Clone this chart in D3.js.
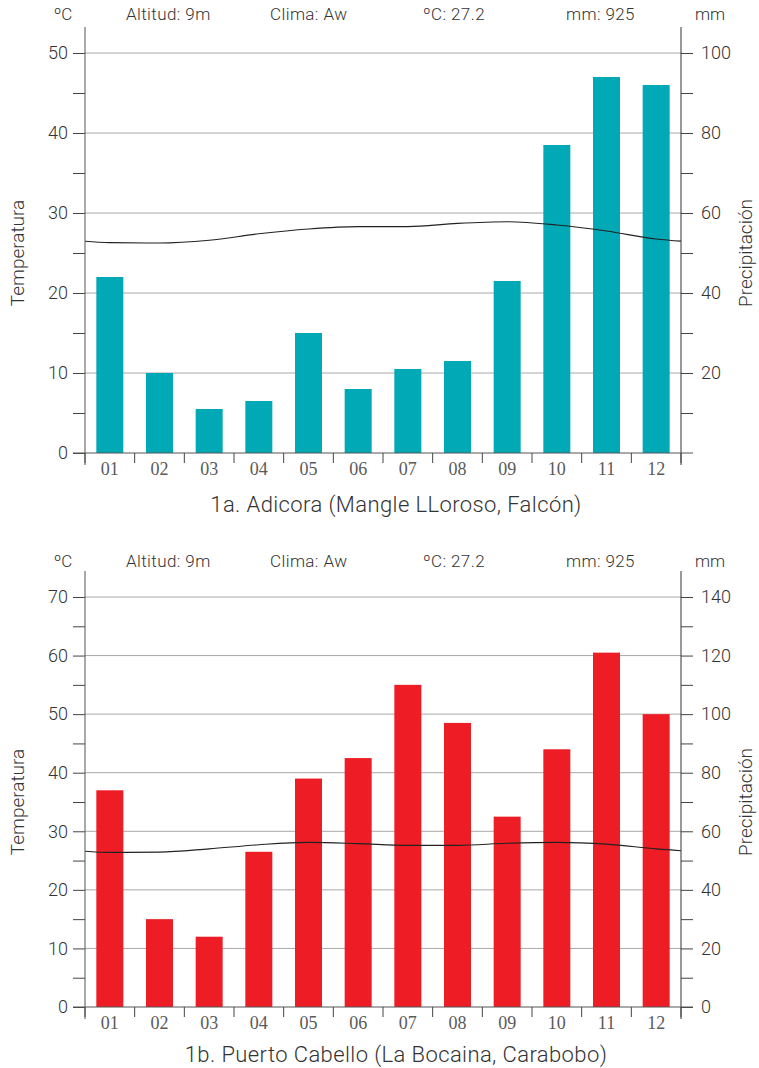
<!DOCTYPE html>
<html>
<head>
<meta charset="utf-8">
<script src="https://cdn.jsdelivr.net/npm/d3@7"></script>
<style>
  body { margin: 0; background: #fff; }
  svg { display: block; }
  text { font-family: Roboto, "Liberation Sans", Arial, sans-serif; font-weight: 300; fill: #333; }
  .xlab { font-family: "Liberation Serif", "DejaVu Serif", serif; font-weight: 400; fill: #5a5a5a; }
</style>
</head>
<body>
<div id="chart"></div>
<script>
const months = ["01", "02", "03", "04", "05", "06", "07", "08", "09", "10", "11", "12"];

// 1a. Adicora
const precipAdicora = [44, 20, 11, 13, 30, 16, 21, 23, 43, 77, 94, 92];
const tempAdicora = [26.3, 26.25, 26.6, 27.4, 28.0, 28.3, 28.3, 28.7, 28.9, 28.5, 27.75, 26.75];

// 1b. Puerto Cabello
const precipPuerto = [74, 30, 24, 53, 78, 85, 110, 97, 65, 88, 121, 100];
const tempPuerto = [26.4, 26.45, 27.0, 27.7, 28.1, 27.9, 27.6, 27.6, 27.95, 28.1, 27.8, 27.0];

const headerLabels = ["Altitud: 9m", "Clima: Aw", "ºC: 27.2", "mm: 925"];

const W = 759, H = 1068;
const svg = d3.select("#chart").append("svg").attr("width", W).attr("height", H);

function drawChart(cfg) {
    const left = 85, right = 681;
    const g = svg.append("g");

    const x = d3.scaleBand().domain(months).range([left, right]).padding(0);
    const yT = d3.scaleLinear().domain([0, cfg.tMax]).range([cfg.y0, cfg.yTop]);
    const yP = d3.scaleLinear().domain([0, cfg.tMax * 2]).range([cfg.y0, cfg.yTop]);

    // header
    g.append("text").attr("x", 63).attr("y", cfg.headY).attr("text-anchor", "middle")
        .style("font-size", "17px").text("ºC");
    g.selectAll(".head").data(headerLabels).join("text")
        .attr("class", "head")
        .attr("x", (d, i) => [126, 270, 423, 566][i])
        .attr("y", cfg.headY)
        .style("font-size", "17px")
        .style("letter-spacing", "0.4px")
        .text(d => d);
    g.append("text").attr("x", 710).attr("y", cfg.headY).attr("text-anchor", "middle")
        .style("font-size", "17px").text("mm");

    // gridlines
    const gridTicks = d3.range(10, cfg.tMax + 1, 10);
    g.selectAll(".grid").data(gridTicks).join("line")
        .attr("x1", left).attr("x2", right)
        .attr("y1", d => yT(d)).attr("y2", d => yT(d))
        .attr("stroke", "#a8a8a8").attr("stroke-width", 1);

    // bars
    const bw = 27;
    g.selectAll(".bar").data(cfg.precip).join("rect")
        .attr("x", (d, i) => x(months[i]) + x.bandwidth() / 2 - bw / 2)
        .attr("width", bw)
        .attr("y", d => yP(d))
        .attr("height", d => cfg.y0 - yP(d))
        .attr("fill", cfg.color);

    // temperature line (wrapped Dec / Jan at the edges, clipped to the plot)
    const clipId = "clip" + cfg.id;
    svg.append("clipPath").attr("id", clipId).append("rect")
        .attr("x", left).attr("y", cfg.yTop - 30).attr("width", right - left).attr("height", cfg.y0 - cfg.yTop + 30);
    const pts = [[-1, cfg.temp[11]]].concat(cfg.temp.map((t, i) => [i, t]), [[12, cfg.temp[0]]]);
    const xi = i => left + (i + 0.5) * x.bandwidth();
    const line = d3.line().x(d => xi(d[0])).y(d => yT(d[1])).curve(d3.curveMonotoneX);
    g.append("path").attr("d", line(pts)).attr("clip-path", "url(#" + clipId + ")")
        .attr("fill", "none").attr("stroke", "#222").attr("stroke-width", 1.1);

    // left axis
    const leftAxis = d3.axisLeft(yT)
        .tickValues(d3.range(0, cfg.tMax + 1, 5))
        .tickSize(12).tickPadding(5)
        .tickFormat(d => d % 10 === 0 ? d : "");
    const la = g.append("g").attr("transform", `translate(${left},0)`).call(leftAxis);
    la.select(".domain").remove();
    la.append("line").attr("x1", 0).attr("x2", 0).attr("y1", cfg.yTop - 26).attr("y2", cfg.y0 + 12)
        .attr("stroke", "#555");

    // right axis
    const rightAxis = d3.axisRight(yP)
        .tickValues(d3.range(cfg.showZero ? 0 : 10, cfg.tMax * 2 + 1, 10))
        .tickSize(12).tickPadding(8)
        .tickFormat(d => d % 20 === 0 ? d : "");
    const ra = g.append("g").attr("transform", `translate(${right},0)`).call(rightAxis);
    ra.select(".domain").remove();
    ra.append("line").attr("x1", 0).attr("x2", 0).attr("y1", cfg.yTop - 26).attr("y2", cfg.y0 + 12)
        .attr("stroke", "#333");

    [la, ra].forEach(a => {
        a.selectAll(".tick line").attr("stroke", "#444");
        a.selectAll(".tick text").style("font-size", "18px")
            .style("font-family", "Roboto, Liberation Sans, Arial, sans-serif")
            .style("font-weight", 300)
            .attr("fill", "#444");
    });

    // x axis
    g.append("line").attr("x1", left - 12).attr("x2", right + 12)
        .attr("y1", cfg.y0).attr("y2", cfg.y0).attr("stroke", "#555");
    g.selectAll(".xtick").data(d3.range(0, 13)).join("line")
        .attr("x1", i => left + i * x.bandwidth()).attr("x2", i => left + i * x.bandwidth())
        .attr("y1", cfg.y0).attr("y2", cfg.y0 + 10).attr("stroke", "#444");
    g.selectAll(".xlab").data(months).join("text")
        .attr("class", "xlab")
        .attr("x", d => x(d) + x.bandwidth() / 2)
        .attr("y", cfg.y0 + 22)
        .attr("text-anchor", "middle")
        .style("font-size", "18px")
        .text(d => d);

    // axis titles
    const midY = (cfg.y0 + cfg.yTop) / 2;
    g.append("text").attr("transform", `translate(24,${midY}) rotate(-90)`)
        .attr("text-anchor", "middle").style("font-size", "19px").text("Temperatura");
    g.append("text").attr("transform", `translate(752,${midY}) rotate(-90)`)
        .attr("text-anchor", "middle").style("font-size", "19px").text("Precipitación");

    // title
    g.append("text").attr("x", 396).attr("y", cfg.titleY).attr("text-anchor", "middle")
        .style("font-size", "22px").style("letter-spacing", "0.4px").text(cfg.title);
}

drawChart({
    id: "a", title: "1a. Adicora (Mangle LLoroso, Falcón)",
    precip: precipAdicora, temp: tempAdicora, color: "#00a9b5",
    tMax: 50, y0: 453, yTop: 53, headY: 20, titleY: 512, showZero: false
});

drawChart({
    id: "b", title: "1b. Puerto Cabello (La Bocaina, Carabobo)",
    precip: precipPuerto, temp: tempPuerto, color: "#ee1c25",
    tMax: 70, y0: 1007, yTop: 597, headY: 567, titleY: 1062, showZero: true
});
</script>
</body>
</html>
